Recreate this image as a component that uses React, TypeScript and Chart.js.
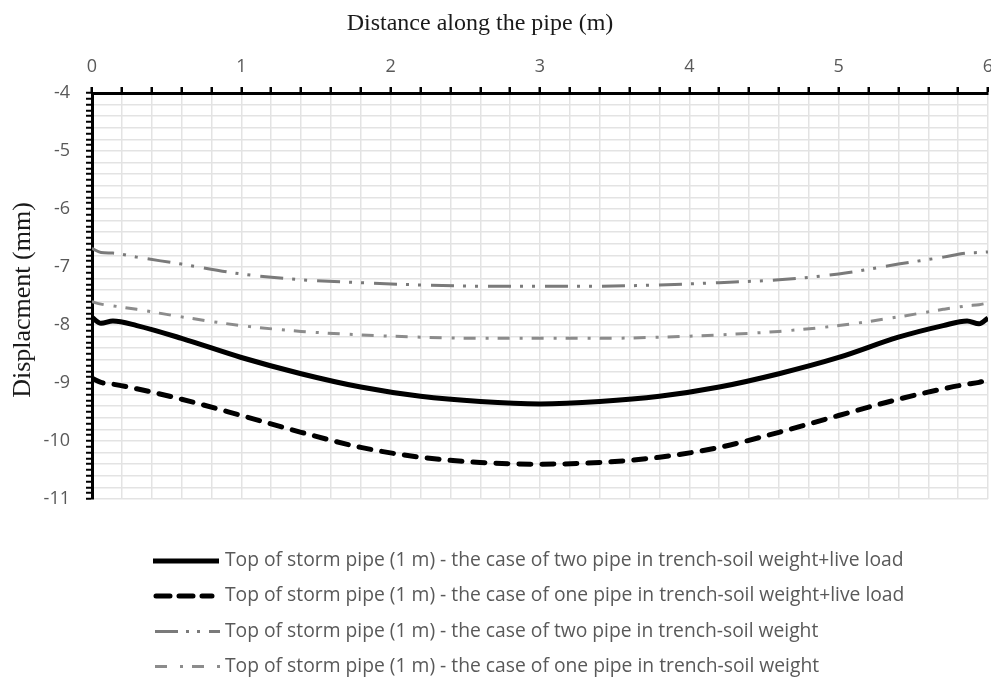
import React, { useEffect, useRef } from 'react';
import { Chart, registerables } from 'chart.js';

Chart.register(...registerables);

// Distance along the pipe (m)
const distances = [0, 0.06, 0.14, 0.3, 0.6, 1.0, 1.4, 1.8, 2.2, 2.6, 3.0, 3.4, 3.8, 4.2, 4.6, 5.0, 5.4, 5.7, 5.86, 5.94, 6.0];

// Displacement (mm)
const twoPipeLive = [-7.87, -7.97, -7.93, -8.01, -8.23, -8.56, -8.84, -9.07, -9.23, -9.32, -9.36, -9.32, -9.23, -9.07, -8.84, -8.56, -8.21, -8.01, -7.93, -7.98, -7.88];
const onePipeLive = [-8.92, -8.99, -9.02, -9.10, -9.28, -9.56, -9.85, -10.11, -10.28, -10.37, -10.40, -10.37, -10.28, -10.11, -9.85, -9.56, -9.28, -9.10, -9.02, -8.99, -8.94];
const twoPipeSoil = [-6.68, -6.75, -6.76, -6.83, -6.95, -7.12, -7.22, -7.27, -7.31, -7.33, -7.33, -7.33, -7.31, -7.27, -7.22, -7.12, -6.95, -6.83, -6.76, -6.75, -6.74];
const onePipeSoil = [-7.60, -7.64, -7.67, -7.73, -7.86, -8.01, -8.11, -8.17, -8.21, -8.23, -8.23, -8.23, -8.21, -8.17, -8.11, -8.01, -7.86, -7.73, -7.67, -7.65, -7.62];

const seriesLabels = [
  'Top of storm pipe (1 m) - the case of two pipe in trench-soil weight+live load',
  'Top of storm pipe (1 m) - the case of one pipe in trench-soil weight+live load',
  'Top of storm pipe (1 m) - the case of two pipe in trench-soil weight',
  'Top of storm pipe (1 m) - the case of one pipe in trench-soil weight',
];

const xAxisTitle = 'Distance along the pipe (m)';
const yAxisTitle = 'Displacment (mm)';

const xMin = 0;
const xMax = 6;
const yMin = -11;
const yMax = -4;

const toPoints = (ys: number[]) => ys.map((y, i) => ({ x: distances[i], y }));

const isMultiple = (v: number, step: number) => Math.abs(v / step - Math.round(v / step)) < 1e-6;

const titlesPlugin = {
  id: 'titlesPlugin',
  afterDraw(chart: any) {
    const ctx = chart.ctx;
    ctx.save();
    ctx.fillStyle = '#1a1a1a';
    ctx.font = '24px "Liberation Serif", "Times New Roman", serif';
    ctx.textAlign = 'center';
    ctx.textBaseline = 'alphabetic';
    ctx.fillText(xAxisTitle, 480, 30);
    ctx.translate(30, 300);
    ctx.rotate(-Math.PI / 2);
    ctx.font = '26px "Liberation Serif", "Times New Roman", serif';
    ctx.fillText(yAxisTitle, 0, 0);
    ctx.restore();
  },
};

const legendPlugin = {
  id: 'customLegend',
  afterDraw(chart: any) {
    const ctx = chart.ctx;
    const rows = [561, 596, 631.5, 666.5];
    chart.data.datasets.forEach((ds: any, i: number) => {
      const y = rows[i];
      ctx.save();
      ctx.strokeStyle = ds.borderColor;
      ctx.lineWidth = ds.borderWidth;
      ctx.setLineDash(ds.legendDash || []);
      ctx.lineCap = ds.borderCapStyle || 'butt';
      ctx.beginPath();
      ctx.moveTo(ds.legendStart || 153, y);
      ctx.lineTo(ds.legendEnd || 219, y);
      ctx.stroke();
      ctx.setLineDash([]);
      ctx.fillStyle = '#595959';
      ctx.font = '19.3px "Open Sans", sans-serif';
      ctx.textBaseline = 'middle';
      ctx.textAlign = 'left';
      ctx.fillText(ds.label, 225, y);
      ctx.restore();
    });
  },
};

export default function App() {
  const canvasRef = useRef<HTMLCanvasElement | null>(null);

  useEffect(() => {
    if (!canvasRef.current) return;
    const chart = new Chart(canvasRef.current, {
      type: 'line',
      data: {
        datasets: [
          {
            label: seriesLabels[0],
            data: toPoints(twoPipeLive),
            borderColor: '#000000',
            borderWidth: 5,
            pointRadius: 0,
            cubicInterpolationMode: 'monotone',
            fill: false,
            legendDash: [],
          } as any,
          {
            label: seriesLabels[1],
            data: toPoints(onePipeLive),
            borderColor: '#000000',
            borderWidth: 5,
            borderDash: [12, 11],
            borderCapStyle: 'round',
            pointRadius: 0,
            cubicInterpolationMode: 'monotone',
            fill: false,
            legendDash: [14, 9],
            legendStart: 156,
            legendEnd: 212,
          } as any,
          {
            label: seriesLabels[2],
            data: toPoints(twoPipeSoil),
            borderColor: '#7a7a7a',
            borderWidth: 3,
            borderDash: [23, 9, 3, 9, 3, 10],
            pointRadius: 0,
            cubicInterpolationMode: 'monotone',
            fill: false,
            legendDash: [23, 8, 3, 8, 3, 9],
            legendStart: 155,
            legendEnd: 220,
          } as any,
          {
            label: seriesLabels[3],
            data: toPoints(onePipeSoil),
            borderColor: '#8c8c8c',
            borderWidth: 3,
            borderDash: [12, 10, 3, 9],
            pointRadius: 0,
            cubicInterpolationMode: 'monotone',
            fill: false,
            legendDash: [12, 13, 3, 9],
            legendStart: 155,
            legendEnd: 223,
          } as any,
        ],
      },
      options: {
        animation: false,
        responsive: false,
        maintainAspectRatio: false,
        layout: { padding: { left: 0, top: 0, right: 3, bottom: 180 } },
        plugins: {
          legend: { display: false },
          tooltip: { enabled: false },
          title: { display: false },
        },
        scales: {
          x: {
            type: 'linear',
            position: 'top',
            min: xMin,
            max: xMax,
            afterFit: (scale: any) => {
              scale.height = 93;
              scale.paddingLeft = 0;
              scale.paddingRight = 0;
            },
            ticks: {
              stepSize: 0.2,
              autoSkip: false,
              maxRotation: 0,
              padding: 9,
              color: '#595959',
              font: { family: '"Open Sans", sans-serif', size: 18 },
              callback: (v: any) => (isMultiple(Number(v), 1) ? String(Math.round(Number(v))) : ''),
            },
            grid: {
              color: '#e3e3e3',
              lineWidth: 1.5,
              drawTicks: true,
              tickLength: 6,
              tickColor: '#000000',
              tickWidth: 2.5,
            },
            border: { display: true, color: '#000000', width: 3 },
          },
          y: {
            type: 'linear',
            min: yMin,
            max: yMax,
            afterFit: (scale: any) => {
              scale.width = 92;
            },
            ticks: {
              stepSize: 0.1,
              autoSkip: false,
              padding: 16,
              color: '#595959',
              font: { family: '"Open Sans", sans-serif', size: 18 },
              callback: (v: any) => (isMultiple(Number(v), 1) ? String(Math.round(Number(v))) : ''),
            },
            grid: {
              color: (c: any) => (c.tick && isMultiple(c.tick.value, 0.2) ? '#e3e3e3' : 'rgba(0,0,0,0)'),
              lineWidth: 1.5,
              drawTicks: true,
              tickLength: 6,
              tickColor: '#000000',
              tickWidth: 2,
            },
            border: { display: true, color: '#000000', width: 3 },
          },
        },
      } as any,
      plugins: [titlesPlugin, legendPlugin],
    });
    return () => chart.destroy();
  }, []);

  return (
    <div style={{ position: 'fixed', left: 0, top: 0, width: 991, height: 679, background: '#ffffff' }}>
      <canvas ref={canvasRef} width={991} height={679} />
    </div>
  );
}
